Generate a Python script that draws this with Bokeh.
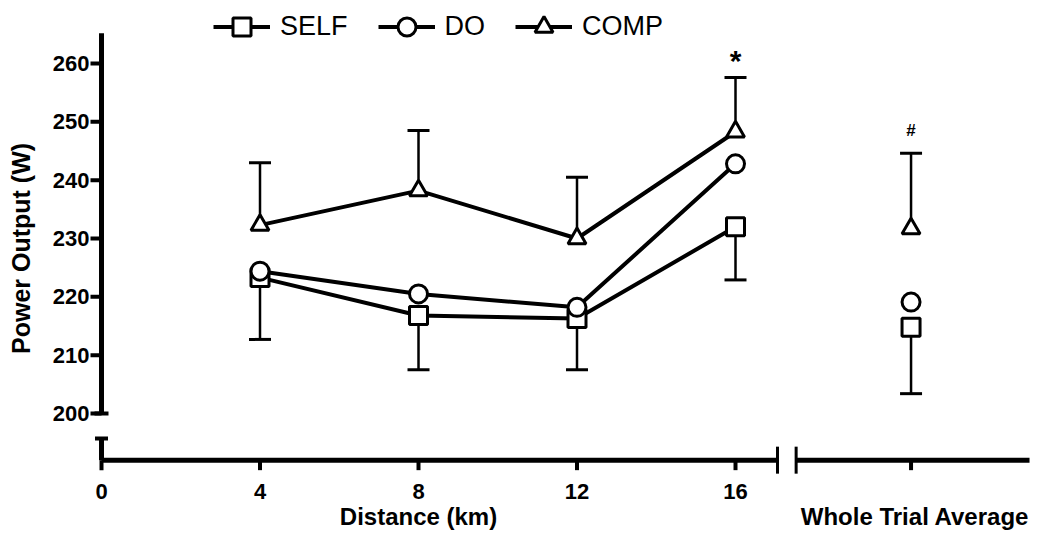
import numpy as np
from bokeh.plotting import figure
from bokeh.models import Range1d, ColumnDataSource, Whisker, TeeHead, Legend, LegendItem
from bokeh.core.properties import value
from bokeh.embed import file_html
from bokeh.resources import INLINE

# ---------------- data ----------------
distance = [4, 8, 12, 16]
self_mean = [223.3, 216.8, 216.3, 232.0]
self_err = [10.6, 9.3, 8.8, 9.1]
do_mean = [224.4, 220.5, 218.2, 242.8]
comp_mean = [232.3, 238.2, 230.0, 248.3]
comp_err = [10.7, 10.3, 10.5, 9.3]

wta_self = 214.8
wta_self_err = 11.4
wta_do = 219.1
wta_comp = 231.7
wta_comp_err = 12.9

x_ticks = [0, 4, 8, 12, 16]
x_tick_labels = ["0", "4", "8", "12", "16"]
y_ticks = [200, 210, 220, 230, 240, 250, 260]
y_tick_labels = [str(v) for v in y_ticks]

# ---------------- layout constants ----------------
WTA_X = 20.43          # position of the "Whole Trial Average" category
X_BREAK_L = 17.06
X_BREAK_R = 17.53
X_END = 23.42
Y_TOP = 265.2
Y_BREAK = 195.7
X_AXIS_Y = 192.0
FONT_NAME = "Liberation Sans"
FONT = value(FONT_NAME)

p = figure(width=1040, height=532,
           x_range=Range1d(-2.549, 23.697), y_range=Range1d(179.6, 270.8),
           x_axis_type=None, y_axis_type=None, min_border=0,
           toolbar_location=None, output_backend="svg",
           outline_line_color=None)
p.xgrid.visible = False
p.ygrid.visible = False

# ---------------- axes (with breaks) ----------------
p.segment(x0=[0], y0=[200], x1=[0], y1=[Y_TOP], line_width=5, line_color="black")
p.segment(x0=[0], y0=[Y_BREAK], x1=[0], y1=[X_AXIS_Y], line_width=5, line_color="black")
p.scatter(x=[0], y=[200], marker="dash", size=14, line_width=4, line_color="black")
p.scatter(x=[0], y=[Y_BREAK], marker="dash", size=13, line_width=4, line_color="black")
p.ray(x=[0] * len(y_ticks), y=y_ticks, length=11, length_units="screen",
      angle=np.pi, line_width=4, line_color="black")

p.segment(x0=[0, X_BREAK_R], y0=[X_AXIS_Y, X_AXIS_Y], x1=[X_BREAK_L, X_END],
          y1=[X_AXIS_Y, X_AXIS_Y], line_width=5, line_color="black")
p.scatter(x=[X_BREAK_L, X_BREAK_R], y=[X_AXIS_Y, X_AXIS_Y], marker="dash",
          angle=np.pi / 2, size=27, line_width=3, line_color="black")
p.ray(x=x_ticks + [WTA_X], y=[X_AXIS_Y] * (len(x_ticks) + 1), length=10,
      length_units="screen", angle=-np.pi / 2, line_width=4, line_color="black")

p.text(x=x_ticks, y=[X_AXIS_Y] * len(x_ticks), text=x_tick_labels, y_offset=31,
       text_align="center", text_baseline="middle", text_font=FONT,
       text_font_style="bold", text_font_size="22px", text_color="black")
p.text(x=[0] * len(y_ticks), y=y_ticks, text=y_tick_labels, x_offset=-12,
       text_align="right", text_baseline="middle", text_font=FONT,
       text_font_style="bold", text_font_size="22px", text_color="black")

p.text(x=[0], y=[228.3], text=["Power Output (W)"], angle=np.pi / 2, x_offset=-80.5,
       text_align="center", text_baseline="middle", text_font=FONT,
       text_font_style="bold", text_font_size="25px", text_color="black")
p.text(x=[8], y=[X_AXIS_Y], text=["Distance (km)"], y_offset=56,
       text_align="center", text_baseline="middle", text_font=FONT,
       text_font_style="bold", text_font_size="24px", text_color="black")
p.text(x=[WTA_X], y=[X_AXIS_Y], text=["Whole Trial Average"], x_offset=4, y_offset=56,
       text_align="center", text_baseline="middle", text_font=FONT,
       text_font_style="bold", text_font_size="24px", text_color="black")

# ---------------- error bars ----------------
self_src = ColumnDataSource(dict(
    base=distance + [WTA_X],
    lower=[m - e for m, e in zip(self_mean + [wta_self], self_err + [wta_self_err])],
    upper=self_mean + [wta_self]))
comp_src = ColumnDataSource(dict(
    base=distance + [WTA_X],
    lower=comp_mean + [wta_comp],
    upper=[m + e for m, e in zip(comp_mean + [wta_comp], comp_err + [wta_comp_err])]))

p.add_layout(Whisker(source=self_src, base="base", lower="lower", upper="upper",
                     lower_head=TeeHead(size=22, line_width=3, line_color="black"),
                     upper_head=None, line_width=2.5, line_color="black"))
p.add_layout(Whisker(source=comp_src, base="base", lower="lower", upper="upper",
                     upper_head=TeeHead(size=22, line_width=3, line_color="black"),
                     lower_head=None, line_width=2.5, line_color="black"))

# ---------------- series ----------------
l_self = p.line(distance, self_mean, line_width=4, line_color="black")
l_do = p.line(distance, do_mean, line_width=4, line_color="black")
l_comp = p.line(distance, comp_mean, line_width=4, line_color="black")

mk = dict(size=18, fill_color="white", line_color="black", line_width=3)
s_self = p.scatter(distance + [WTA_X], self_mean + [wta_self], marker="square", **mk)
s_do = p.scatter(distance + [WTA_X], do_mean + [wta_do], marker="circle", **mk)
s_comp = p.scatter(distance + [WTA_X], comp_mean + [wta_comp], marker="triangle", **mk)

# significance marks
p.text(x=[distance[-1]], y=[comp_mean[-1] + comp_err[-1]], text=["*"], y_offset=-17,
       text_align="center", text_baseline="middle", text_font=FONT,
       text_font_style="bold", text_font_size="30px", text_color="black")
p.text(x=[WTA_X], y=[wta_comp + wta_comp_err], text=["#"], y_offset=-23,
       text_align="center", text_baseline="middle", text_font=FONT,
       text_font_style="bold", text_font_size="17px", text_color="black")

# ---------------- legend ----------------
legend = Legend(items=[LegendItem(label="SELF", renderers=[l_self, s_self]),
                       LegendItem(label="DO", renderers=[l_do, s_do]),
                       LegendItem(label="COMP", renderers=[l_comp, s_comp])],
                orientation="horizontal", location=(213, 482.8),
                glyph_width=57, glyph_height=45, label_standoff=10, spacing=30,
                padding=0, margin=0, border_line_color=None,
                background_fill_alpha=0, label_text_font=FONT_NAME,
                label_text_font_size="27px", label_text_color="black")
p.add_layout(legend)

open("out.html", "w").write(file_html(p, INLINE))
